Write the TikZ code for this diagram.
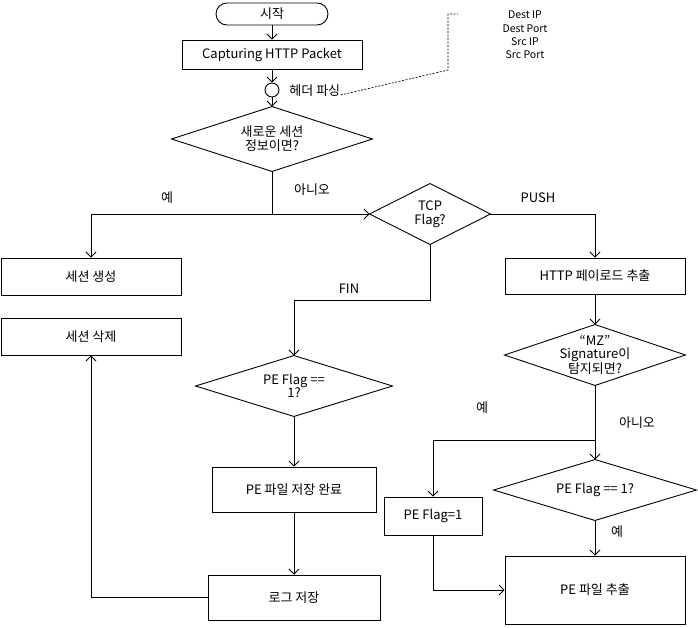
\documentclass[tikz,border=0pt]{standalone}
\usepackage{fontspec}
\setmainfont{Noto Sans CJK KR}
\usetikzlibrary{arrows.meta}
\newcommand\drawdiamond[1]{\draw (#1.north) -- (#1.east) -- (#1.south) -- (#1.west) -- cycle;}
\begin{document}
\begin{tikzpicture}[x=1pt,y=-1pt,line width=0.9pt,
  >={Straight Barb[length=5pt,width=10pt]},
  box/.style={draw,inner sep=0pt,align=center,font=\fontsize{13}{15}\selectfont},
  dia/.style={inner sep=0pt,align=center,font=\fontsize{13}{13.8}\selectfont},
  lbl/.style={inner sep=0pt,font=\fontsize{13}{15}\selectfont},
  smalltxt/.style={inner sep=0pt,align=center,font=\fontsize{10.5}{13.3}\selectfont}]
\useasboundingbox (0,0) rectangle (698,627);
% top
\node[box,rounded corners=11pt,minimum width=112,minimum height=22] (start) at (272,14) {시작};
\node[box,minimum width=180,minimum height=29] (cap) at (272,54.5) {Capturing HTTP Packet};
\node[draw,circle,minimum size=14,inner sep=0pt] (circ) at (272,90) {};
\node[lbl,anchor=west] (hdr) at (289,91) {헤더 파싱};
\coordinate (d1) at (448,70);
\coordinate (d2) at (448,14);
\coordinate (d3) at (458,14);
\draw[line width=0.7pt,dash pattern=on 2pt off 1.5pt] ([yshift=-4pt]hdr.east) -- (d1) -- (d2) -- (d3);
\node[smalltxt] (info) at (525,35) {Dest IP\\Dest Port\\Src IP\\Src Port};
% diamond 1
\node[dia,minimum width=200,minimum height=64] (q1) at (272,139) {새로운 세션\\정보이면?};
\drawdiamond{q1}
\coordinate (j1) at (272,214);
\node[box,minimum width=180,minimum height=37] (mk) at (91,276.5) {세션 생성};
\node[box,minimum width=180,minimum height=37] (del) at (91,336.5) {세션 삭제};
\node[dia,minimum width=120,minimum height=60] (q2) at (430,214) {TCP\\Flag?};
\drawdiamond{q2}
\node[box,minimum width=180,minimum height=36] (http) at (595,276) {HTTP 페이로드 추출};
\coordinate (f1) at (430,300);
\node[dia,minimum width=196,minimum height=60] (q3) at (294,386) {PE Flag ==\\1?};
\drawdiamond{q3}
\node[box,minimum width=164,minimum height=45] (save) at (294,489.5) {PE 파일 저장 완료};
\node[box,minimum width=172,minimum height=45] (log) at (294,597.5) {로그 저장};
\node[dia,minimum width=180,minimum height=60] (q4) at (595,355) {“MZ”\\Signature이\\탐지되면?};
\drawdiamond{q4}
\coordinate (j2) at (595,440);
\node[dia,minimum width=202,minimum height=60] (q5) at (595,490) {PE Flag == 1?};
\drawdiamond{q5}
\node[box,minimum width=98,minimum height=38] (pf) at (433,516) {PE Flag=1};
\node[box,minimum width=180,minimum height=68] (ext) at (595,590) {PE 파일 추출};
% connectors
\draw[->] (start) -- (cap);
\draw[->] (cap) -- (circ);
\draw[->] (circ) -- (q1.north);
\draw (q1.south) -- (j1);
\draw[->] (j1) -| (mk.north);
\draw[->] (j1) -- (q2.west);
\draw[->] (q2.east) -| (http.north);
\draw[->] (q2.south) -- (f1) -| (q3.north);
\draw[->] (q3.south) -- (save.north);
\draw[->] (save) -- (log);
\draw[->] (log.west) -| (del.south);
\draw[->] (http) -- (q4.north);
\draw (q4.south) -- (j2);
\draw[->] (j2) -| (pf.north);
\draw[->] (j2) -- (q5.north);
\draw[->] (q5.south) -- (ext.north);
\draw[->] (pf.south) |- (ext.west);
% labels
\node[lbl] (l1) at (167,198) {예};
\node[lbl] (l2) at (312,190) {아니오};
\node[lbl] (l3) at (538,198) {PUSH};
\node[lbl] (l4) at (349,289) {FIN};
\node[lbl] (l5) at (482,408) {예};
\node[lbl] (l6) at (637,423) {아니오};
\node[lbl] (l7) at (617,532) {예};
\end{tikzpicture}
\end{document}
